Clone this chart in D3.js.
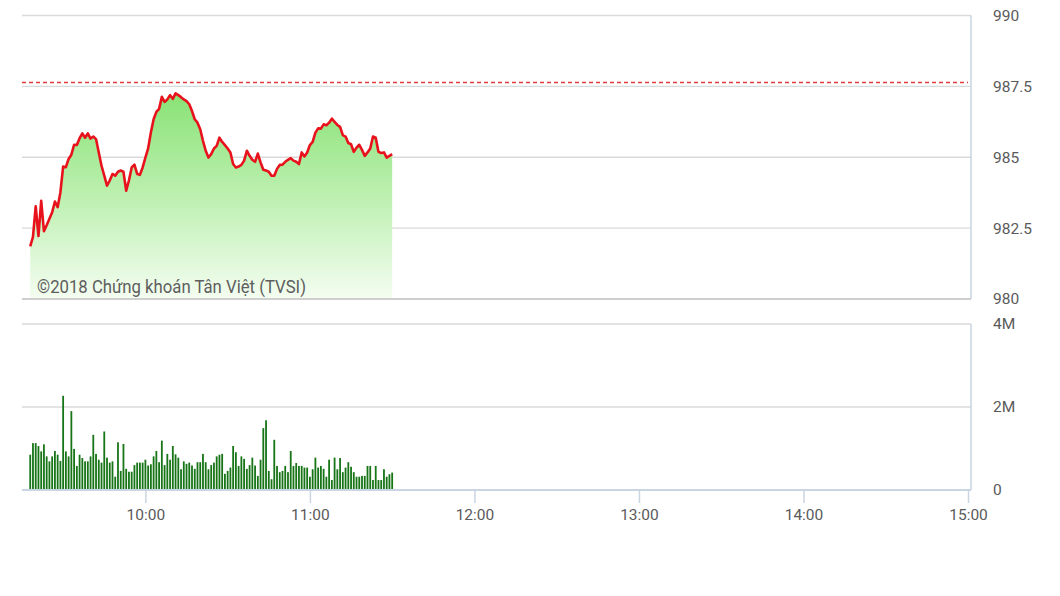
<!DOCTYPE html>
<html>
<head>
<meta charset="utf-8">
<script src="https://cdn.jsdelivr.net/npm/d3@7"></script>
<style>
  html, body { margin: 0; padding: 0; background: #fff; }
  svg { display: block; font-family: Roboto, "Noto Sans", sans-serif; }
</style>
</head>
<body>
<svg id="chart" width="1060" height="596"></svg>
<script>
// ---------- DATA ----------
const sessionStart = "09:15";
const sessionEnd = "15:00";
const firstPointTime = "09:18";   // one point per minute from here
const referencePrice = 987.64;

const priceValues = [
  981.86, 982.19, 983.27, 982.22, 983.46, 982.39, 982.60, 982.83, 983.06, 983.44,
  983.24, 983.76, 984.67, 984.65, 984.94, 985.09, 985.44, 985.43, 985.67, 985.84,
  985.69, 985.84, 985.66, 985.73, 985.64, 985.17, 984.70, 984.35, 984.00, 984.18,
  984.41, 984.35, 984.49, 984.53, 984.49, 983.82, 984.18, 984.64, 984.74, 984.41,
  984.38, 984.64, 984.99, 985.31, 985.87, 986.34, 986.60, 986.71, 987.13, 986.95,
  987.04, 987.19, 987.06, 987.25, 987.19, 987.12, 987.04, 986.98, 986.87, 986.63,
  986.34, 986.22, 985.99, 985.58, 985.23, 984.99, 985.11, 985.31, 985.40, 985.69,
  985.54, 985.43, 985.31, 985.17, 984.76, 984.64, 984.67, 984.73, 984.88, 985.23,
  985.05, 984.91, 984.84, 985.13, 984.82, 984.56, 984.53, 984.49, 984.35, 984.35,
  984.59, 984.73, 984.74, 984.84, 984.91, 984.97, 984.88, 984.84, 984.76, 985.17,
  985.03, 985.17, 985.43, 985.54, 985.87, 986.02, 986.01, 986.16, 986.13, 986.22,
  986.36, 986.25, 986.14, 986.07, 985.78, 985.73, 985.50, 985.46, 985.19, 985.34,
  985.44, 985.26, 985.05, 985.17, 985.31, 985.73, 985.69, 985.19, 985.15, 985.17,
  984.99, 985.05, 985.11
];

const volumeValues = [ // shares
  850000, 1130000, 1130000, 1060000, 930000, 1100000, 810000, 690000, 810000, 940000,
  850000, 700000, 2270000, 930000, 810000, 1900000, 990000, 580000, 850000, 770000,
  690000, 690000, 810000, 1330000, 870000, 730000, 660000, 1410000, 780000, 660000,
  690000, 320000, 1150000, 460000, 1110000, 510000, 440000, 440000, 600000, 660000,
  660000, 660000, 730000, 590000, 620000, 810000, 940000, 670000, 1190000, 600000,
  870000, 730000, 1060000, 860000, 780000, 500000, 690000, 630000, 660000, 590000,
  510000, 670000, 670000, 870000, 670000, 500000, 600000, 660000, 810000, 850000,
  870000, 390000, 460000, 540000, 1060000, 910000, 580000, 810000, 750000, 510000,
  600000, 780000, 590000, 340000, 730000, 1490000, 1680000, 460000, 260000, 1210000,
  580000, 430000, 460000, 580000, 430000, 940000, 580000, 650000, 580000, 580000,
  540000, 540000, 320000, 500000, 780000, 540000, 580000, 510000, 320000, 730000,
  240000, 780000, 500000, 770000, 430000, 540000, 670000, 560000, 430000, 320000,
  320000, 340000, 340000, 580000, 580000, 240000, 580000, 240000, 240000, 500000,
  320000, 380000, 420000
];

const priceTicks = [980, 982.5, 985, 987.5, 990];
const volumeTicks = [0, 2000000, 4000000];
const timeTicks = ["10:00", "11:00", "12:00", "13:00", "14:00", "15:00"];
const watermark = "©2018 Chứng khoán Tân Việt (TVSI)";

// ---------- HELPERS ----------
const day = "2018-08-01";
const parseT = d3.timeParse("%Y-%m-%d %H:%M");
const t = s => parseT(day + " " + s);
const t0 = t(firstPointTime);
const times = priceValues.map((_, i) => d3.timeMinute.offset(t0, i));

const svg = d3.select("#chart");

// ---------- LAYOUT ----------
const left = 22, right = 968, frameRight = 971;
const priceTop = 15.5, priceBottom = 299;
const volTop = 324, volBottom = 490;

const x = d3.scaleTime().domain([t(sessionStart), t(sessionEnd)]).range([left, right]);
const yP = d3.scaleLinear().domain([980, 990]).range([priceBottom, priceTop]);
const yV = d3.scaleLinear().domain([0, 4000000]).range([volBottom, volTop]);

// gradient
const defs = svg.append("defs");
const grad = defs.append("linearGradient").attr("id", "fillGrad")
  .attr("gradientUnits", "userSpaceOnUse")
  .attr("x1", 0).attr("x2", 0).attr("y1", yP(987.3)).attr("y2", priceBottom);
grad.append("stop").attr("offset", 0).attr("stop-color", "rgb(136,226,116)");
grad.append("stop").attr("offset", 0.55).attr("stop-color", "rgb(194,241,182)");
grad.append("stop").attr("offset", 1).attr("stop-color", "rgb(244,253,241)");

// ---------- PRICE PANEL ----------
const gP = svg.append("g");
gP.selectAll("line.grid").data(priceTicks).join("line")
  .attr("x1", left).attr("x2", frameRight)
  .attr("y1", d => yP(d)).attr("y2", d => yP(d))
  .attr("stroke", d => d === 980 ? "#cfcfcf" : "#dadada")
  .attr("stroke-width", d => d === 980 ? 2 : 1.3);
gP.append("line")
  .attr("x1", frameRight).attr("x2", frameRight)
  .attr("y1", yP(990)).attr("y2", yP(980))
  .attr("stroke", "#c9d5e2").attr("stroke-width", 1.5);

const pts = priceValues.map((v, i) => ({ t: times[i], v }));
gP.append("path").datum(pts)
  .attr("fill", "url(#fillGrad)")
  .attr("d", d3.area().x(d => x(d.t)).y0(priceBottom - 1).y1(d => yP(d.v)));

gP.append("line")
  .attr("x1", left).attr("x2", right)
  .attr("y1", yP(referencePrice)).attr("y2", yP(referencePrice))
  .attr("stroke", "#e23a3a").attr("stroke-width", 1.5)
  .attr("stroke-dasharray", "4,3");

gP.append("path").datum(pts)
  .attr("fill", "none").attr("stroke", "#e8121c").attr("stroke-width", 2.6)
  .attr("stroke-linejoin", "round")
  .attr("d", d3.line().x(d => x(d.t)).y(d => yP(d.v)));

gP.append("text").attr("x", 37).attr("y", 293)
  .attr("font-size", 17.5).attr("fill", "#5e5e5e")
  .attr("textLength", 269).attr("lengthAdjust", "spacingAndGlyphs")
  .text(watermark);

const axP = d3.axisRight(yP).tickValues(priceTicks).tickSize(0).tickPadding(22)
  .tickFormat(d => String(d));
const gAP = svg.append("g").attr("transform", `translate(${frameRight},0)`).call(axP);
gAP.select(".domain").remove();
gAP.selectAll("text").attr("font-size", 15.5).attr("fill", "#5a5a5a")
  .attr("font-family", "Roboto, sans-serif");

// ---------- VOLUME PANEL ----------
const gV = svg.append("g");
gV.selectAll("line.grid").data(volumeTicks.filter(d => d > 0)).join("line")
  .attr("x1", left).attr("x2", frameRight)
  .attr("y1", d => yV(d)).attr("y2", d => yV(d))
  .attr("stroke", "#dadada").attr("stroke-width", 1.3);
gV.append("line")
  .attr("x1", frameRight).attr("x2", frameRight)
  .attr("y1", yV(4000000)).attr("y2", yV(0))
  .attr("stroke", "#c9d5e2").attr("stroke-width", 1.5);

const vol = volumeValues.map((v, i) => ({ t: times[i], v }));
gV.selectAll("rect.bar").data(vol).join("rect")
  .attr("x", d => x(d.t) - 0.9).attr("width", 1.8)
  .attr("y", d => yV(d.v)).attr("height", d => yV(0) - yV(d.v))
  .attr("fill", "#177517");

gV.append("line")
  .attr("x1", left).attr("x2", frameRight)
  .attr("y1", yV(0)).attr("y2", yV(0))
  .attr("stroke", "#c9d5e2").attr("stroke-width", 1.8);

const axV = d3.axisRight(yV).tickValues(volumeTicks).tickSize(0).tickPadding(22)
  .tickFormat(d => d === 0 ? "0" : (d / 1e6) + "M");
const gAV = svg.append("g").attr("transform", `translate(${frameRight},0)`).call(axV);
gAV.select(".domain").remove();
gAV.selectAll("text").attr("font-size", 15.5).attr("fill", "#5a5a5a")
  .attr("font-family", "Roboto, sans-serif");

// ---------- TIME AXIS ----------
const axT = d3.axisBottom(x).tickValues(timeTicks.map(t)).tickSize(13).tickPadding(6)
  .tickFormat(d3.timeFormat("%H:%M"));
const gAT = svg.append("g").attr("transform", `translate(0,${volBottom})`).call(axT);
gAT.select(".domain").remove();
gAT.selectAll("line").attr("stroke", "#c9d5e2").attr("stroke-width", 1.5);
gAT.selectAll("text").attr("font-size", 15.5).attr("fill", "#5a5a5a")
  .attr("font-family", "Roboto, sans-serif");
</script>
</body>
</html>
